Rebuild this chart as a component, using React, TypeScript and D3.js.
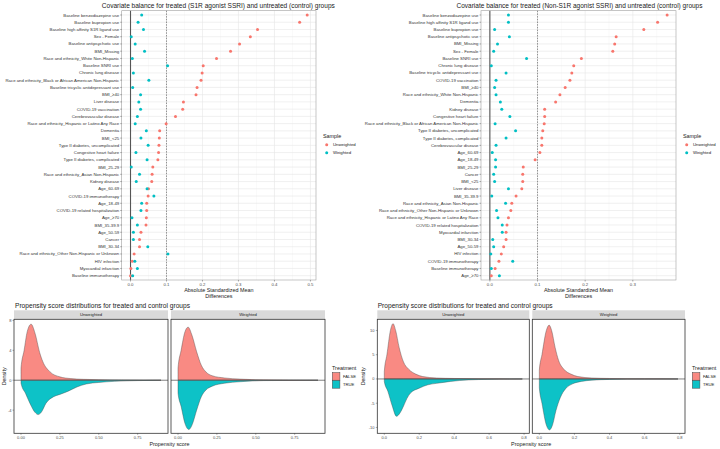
import React from "react";
import * as d3 from "d3";

// ---------- Data: top-left (S1R agonist SSRI) ----------
const s1rLabels = [
  "Baseline benzodiazepine use", "Baseline bupropion use", "Baseline high affinity S1R ligand use", "Sex - Female",
  "Baseline antipsychotic use", "BMI_Missing", "Race and ethnicity_White Non-Hispanic", "Baseline SNRI use",
  "Chronic lung disease", "Race and ethnicity_Black or African American Non-Hispanic", "Baseline tricyclic antidepressant use",
  "BMI_≥40", "Liver disease", "COVID-19 vaccination", "Cerebrovascular disease", "Race and ethnicity_Hispanic or Latino Any Race",
  "Dementia", "BMI_<25", "Type II diabetes, uncomplicated", "Congestive heart failure", "Type II diabetes, complicated",
  "BMI_25-29", "Race and ethnicity_Asian Non-Hispanic", "Kidney disease", "Age_60-69", "COVID-19 immunotherapy",
  "Age_18-49", "COVID-19 related hospitalization", "Age_≥70", "BMI_35-39.9", "Age_50-59", "Cancer", "BMI_30-34",
  "Race and ethnicity_Other Non-Hispanic or Unknown", "HIV infection", "Myocardial infarction", "Baseline immunotherapy",
];
const s1rUnweighted = [0.491, 0.47, 0.353, 0.333, 0.303, 0.278, 0.239, 0.202, 0.199, 0.196, 0.185, 0.182, 0.147, 0.145, 0.125, 0.099,
  0.081, 0.08, 0.079, 0.078, 0.076, 0.062, 0.06, 0.059, 0.05, 0.049, 0.045, 0.045, 0.044, 0.043, 0.029, 0.025, 0.025, 0.01, 0.005, 0.001, 0.0];
const s1rWeighted = [0.031, 0.021, 0.036, 0.002, 0.013, 0.039, 0.005, 0.103, 0.008, 0.051, 0.006, 0.028, 0.023, 0.028, 0.019, 0.013,
  0.044, 0.029, 0.049, 0.015, 0.046, 0.002, 0.025, 0.016, 0.046, 0.065, 0.031, 0.029, 0.004, 0.019, 0.008, 0.008, 0.048, 0.104, 0.012, 0.019, 0.006];
const s1rTicks = [0, 0.1, 0.2, 0.3, 0.4, 0.5];

// ---------- Data: top-right (Non-S1R agonist SSRI) ----------
const nonLabels = [
  "Baseline benzodiazepine use", "Baseline high affinity S1R ligand use", "Baseline bupropion use", "Baseline antipsychotic use",
  "BMI_Missing", "Sex - Female", "Baseline SNRI use", "Chronic lung disease", "Baseline tricyclic antidepressant use",
  "COVID-19 vaccination", "BMI_≥40", "Race and ethnicity_White Non-Hispanic", "Dementia", "Kidney disease", "Congestive heart failure",
  "Race and ethnicity_Black or African American Non-Hispanic", "Type II diabetes, uncomplicated", "Type II diabetes, complicated",
  "Cerebrovascular disease", "Age_60-69", "Age_18-49", "BMI_25-29", "Cancer", "BMI_<25", "Liver disease", "BMI_35-39.9",
  "Race and ethnicity_Asian Non-Hispanic", "Race and ethnicity_Other Non-Hispanic or Unknown", "Race and ethnicity_Hispanic or Latino Any Race",
  "COVID-19 related hospitalization", "Myocardial infarction", "BMI_30-34", "Age_50-59", "HIV infection", "COVID-19 immunotherapy",
  "Baseline immunotherapy", "Age_≥70",
];
const nonUnweighted = [0.372, 0.352, 0.323, 0.265, 0.262, 0.258, 0.192, 0.176, 0.172, 0.168, 0.158, 0.147, 0.138, 0.115, 0.115, 0.114,
  0.111, 0.109, 0.109, 0.105, 0.095, 0.07, 0.069, 0.069, 0.067, 0.055, 0.046, 0.044, 0.039, 0.036, 0.034, 0.034, 0.029, 0.024, 0.019, 0.011, 0.003];
const nonWeighted = [0.039, 0.039, 0.01, 0.041, 0.016, 0.008, 0.077, 0.003, 0.034, 0.013, 0.01, 0.013, 0.022, 0.025, 0.042, 0.011,
  0.054, 0.034, 0.013, 0.005, 0.012, 0.012, 0.008, 0.01, 0.039, 0.004, 0.033, 0.014, 0.017, 0.026, 0.026, 0.006, 0.008, 0.002, 0.048, 0.003, 0.02];
const nonTicks = [0, 0.1, 0.2, 0.3];

// ---------- Density data (propensity score, density) ----------
const s1rUnwFalse: [number, number][] = [[0, 0], [0, 1.6], [0.02, 4], [0.04, 6.5], [0.065, 7.5], [0.09, 6.3], [0.12, 3.7], [0.14, 2.5],
  [0.185, 1.15], [0.25, 0.45], [0.32, 0.22], [0.4, 0.12], [0.5, 0.07], [0.65, 0.03], [0.9, 0]];
const s1rUnwTrue: [number, number][] = [[0, 0], [0, -0.4], [0.03, -1.8], [0.06, -3.2], [0.09, -4.3], [0.11, -4.6], [0.13, -4.3],
  [0.16, -3.1], [0.21, -2.2], [0.25, -1.9], [0.3, -1.5], [0.36, -0.9], [0.42, -0.5], [0.5, -0.3], [0.6, -0.15], [0.75, -0.05], [0.9, 0]];
const s1rWFalse: [number, number][] = [[0, 0], [0, 1.6], [0.02, 4], [0.045, 6.5], [0.065, 7.1], [0.09, 6], [0.12, 3.8], [0.15, 2],
  [0.18, 1.1], [0.22, 0.6], [0.3, 0.3], [0.4, 0.15], [0.55, 0.05], [0.9, 0]];
const s1rWTrue: [number, number][] = [[0, 0], [0, -1.7], [0.02, -3.5], [0.045, -5.8], [0.07, -6.6], [0.09, -6], [0.12, -4],
  [0.15, -2.2], [0.18, -1.3], [0.22, -0.8], [0.3, -0.4], [0.4, -0.2], [0.55, -0.05], [0.9, 0]];
const s1rDensTicksY = [8, 4, 0, -4];
const s1rDensTicksX = [0, 0.25, 0.5, 0.75];

const nonUnwFalse: [number, number][] = [[0, 0], [0, 1.5], [0.015, 5], [0.035, 10], [0.05, 11.4], [0.065, 10], [0.085, 6.5],
  [0.11, 3.5], [0.14, 2], [0.18, 1], [0.22, 0.5], [0.3, 0.2], [0.4, 0.1], [0.6, 0.03], [0.79, 0]];
const nonUnwTrue: [number, number][] = [[0, 0], [0, -0.5], [0.02, -2.5], [0.045, -5.5], [0.07, -7.7], [0.09, -7], [0.11, -5.6],
  [0.13, -4], [0.15, -2.9], [0.2, -1.9], [0.25, -1.2], [0.3, -0.9], [0.38, -0.5], [0.48, -0.2], [0.6, -0.08], [0.79, 0]];
const nonWFalse: [number, number][] = [[0, 0], [0, 1.8], [0.015, 5], [0.04, 10], [0.056, 11.1], [0.07, 10], [0.09, 6.5],
  [0.11, 3.8], [0.14, 2], [0.18, 1], [0.22, 0.5], [0.3, 0.2], [0.4, 0.1], [0.6, 0.02], [0.79, 0]];
const nonWTrue: [number, number][] = [[0, 0], [0, -1.8], [0.015, -5], [0.04, -9.5], [0.058, -10.5], [0.075, -9.5], [0.095, -6.5],
  [0.12, -3.8], [0.15, -2], [0.19, -1], [0.24, -0.5], [0.3, -0.25], [0.4, -0.1], [0.6, -0.02], [0.79, 0]];
const nonDensTicksY = [10, 5, 0, -5, -10];
const nonDensTicksX = [0, 0.2, 0.4, 0.6, 0.8];

const facetNames = ["Unweighted", "Weighted"];
const sampleNames = ["Unweighted", "Weighted"];
const treatmentNames = ["FALSE", "TRUE"];

const RED = "#F8766D";
const CYAN = "#00BFC4";
const FONT = "Liberation Sans, Arial, sans-serif";

type BalanceProps = {
  title: string; labels: string[]; unw: number[]; w: number[]; xDomain: [number, number]; ticks: number[];
  x0: number; x1: number; legendX: number; titleX: number; titleW: number;
};

function BalancePlot({ title, labels, unw, w, xDomain, ticks, x0, x1, legendX, titleX, titleW }: BalanceProps) {
  const y0 = 10.7, y1 = 280;
  const x = d3.scaleLinear().domain(xDomain).range([x0, x1]);
  const y = d3.scalePoint<string>().domain(labels).range([15, 275.7]);
  const minor = ticks.slice(0, -1).map((t) => t + 0.05).concat([ticks[ticks.length - 1] + 0.05]).filter((t) => t < xDomain[1]);
  const fmt = d3.format(".1f");
  const cx = (x0 + x1) / 2;
  return (
    <g>
      <text x={titleX} y={7.7} textAnchor="middle" fontSize={6.9} fill="#1a1a1a" textLength={titleW} lengthAdjust="spacingAndGlyphs">{title}</text>
      <rect x={x0} y={y0} width={x1 - x0} height={y1 - y0} fill="white" />
      {minor.map((t) => (
        <line key={"mi" + t} x1={x(t)} x2={x(t)} y1={y0} y2={y1} stroke="#F2F2F2" strokeWidth={0.4} />
      ))}
      {ticks.map((t) => (
        <line key={"ma" + t} x1={x(t)} x2={x(t)} y1={y0} y2={y1} stroke="#E6E6E6" strokeWidth={0.6} />
      ))}
      {labels.map((l) => (
        <line key={"h" + l} x1={x0} x2={x1} y1={y(l)} y2={y(l)} stroke="#E6E6E6" strokeWidth={0.6} />
      ))}
      <line x1={x(0)} x2={x(0)} y1={y0} y2={y1} stroke="#555" strokeWidth={1.1} />
      <line x1={x(0.1)} x2={x(0.1)} y1={y0} y2={y1} stroke="#333" strokeWidth={0.5} strokeDasharray="1.5,1.2" />
      {labels.map((l, i) => (
        <circle key={"u" + l} cx={x(unw[i])} cy={y(l)} r={1.5} fill={RED} />
      ))}
      {labels.map((l, i) => (
        <circle key={"w" + l} cx={x(w[i])} cy={y(l)} r={1.5} fill={CYAN} />
      ))}
      <rect x={x0} y={y0} width={x1 - x0} height={y1 - y0} fill="none" stroke="#A0A0A0" strokeWidth={0.6} />
      {labels.map((l) => (
        <g key={"l" + l}>
          <line x1={x0 - 1.5} x2={x0} y1={y(l)} y2={y(l)} stroke="#333" strokeWidth={0.4} />
          <text x={x0 - 2.5} y={(y(l) as number) + 1.5} textAnchor="end" fontSize={4.3} fill="#333">{l}</text>
        </g>
      ))}
      {ticks.map((t) => (
        <g key={"t" + t}>
          <line x1={x(t)} x2={x(t)} y1={y1} y2={y1 + 1.5} stroke="#333" strokeWidth={0.4} />
          <text x={x(t)} y={y1 + 5.8} textAnchor="middle" fontSize={4.3} fill="#4D4D4D">{fmt(t)}</text>
        </g>
      ))}
      <text x={cx} y={291.5} textAnchor="middle" fontSize={5.4} fill="#1a1a1a">Absolute Standardized Mean</text>
      <text x={cx} y={297.5} textAnchor="middle" fontSize={5.4} fill="#1a1a1a">Differences</text>
      <text x={legendX} y={138} fontSize={5.4} fill="#1a1a1a">Sample</text>
      {sampleNames.map((s, i) => (
        <g key={s}>
          <circle cx={legendX + 3.7} cy={144.7 + i * 8} r={1.5} fill={i === 0 ? RED : CYAN} />
          <text x={legendX + 10} y={146.2 + i * 8} fontSize={4.3} fill="#1a1a1a">{s}</text>
        </g>
      ))}
    </g>
  );
}

type DensProps = {
  panels: [number, number][]; xDomain: [number, number]; yDomain: [number, number]; xTicks: number[]; yTicks: number[];
  curves: [number, number][][][]; // per facet: [false, true]
  titleX: number; yTickX: number; legendX: number; xFmt: (v: number) => string; densityX: number;
};

function DensityPlot({ panels, xDomain, yDomain, xTicks, yTicks, curves, titleX, yTickX, legendX, xFmt, densityX }: DensProps) {
  const pTop = 319.3, pBot = 433.3, sTop = 310.3;
  const y = d3.scaleLinear().domain(yDomain).range([pBot, pTop]);
  return (
    <g>
      <text x={titleX} y={307.8} fontSize={6.6} fill="#1a1a1a" textLength={175} lengthAdjust="spacingAndGlyphs">Propensity score distributions for treated and control groups</text>
      {panels.map(([a, b], fi) => {
        const x = d3.scaleLinear().domain(xDomain).range([a, b]);
        const area = d3.area<[number, number]>().x((d) => x(d[0])).y0(y(0)).y1((d) => y(d[1])).curve(d3.curveMonotoneX);
        return (
          <g key={fi}>
            <rect x={a} y={sTop} width={b - a} height={pTop - sTop} fill="#D9D9D9" />
            <text x={(a + b) / 2} y={sTop + 6.1} textAnchor="middle" fontSize={4.2} fill="#1a1a1a">{facetNames[fi]}</text>
            {curves[fi].map((c, ci) => (
              <path key={ci} d={area(c) || ""} fill={ci === 0 ? RED : CYAN} fillOpacity={ci === 0 ? 0.85 : 0.95} stroke="#444" strokeWidth={0.4} />
            ))}
            <line x1={a} x2={b} y1={y(0)} y2={y(0)} stroke="#555" strokeWidth={1} strokeOpacity={0.75} />
            <rect x={a} y={pTop} width={b - a} height={pBot - pTop} fill="none" stroke="#333" strokeWidth={0.8} />
            {xTicks.map((t) => (
              <g key={t}>
                <line x1={x(t)} x2={x(t)} y1={pBot} y2={pBot + 1.5} stroke="#333" strokeWidth={0.4} />
                <text x={x(t)} y={pBot + 6} textAnchor="middle" fontSize={4} fill="#4D4D4D">{xFmt(t)}</text>
              </g>
            ))}
            {fi === 0 && yTicks.map((t) => (
              <g key={t}>
                <line x1={a - 1.5} x2={a} y1={y(t)} y2={y(t)} stroke="#333" strokeWidth={0.4} />
                <text x={yTickX} y={y(t) + 1.4} textAnchor="end" fontSize={4} fill="#4D4D4D">{t}</text>
              </g>
            ))}
          </g>
        );
      })}
      <text x={(panels[0][0] + panels[1][1]) / 2} y={446} textAnchor="middle" fontSize={5.4} fill="#1a1a1a">Propensity score</text>
      <text transform={`translate(${densityX},${(pTop + pBot) / 2}) rotate(-90)`} textAnchor="middle" fontSize={5.4} fill="#1a1a1a">Density</text>
      <text x={legendX} y={370} fontSize={5.4} fill="#1a1a1a">Treatment</text>
      {treatmentNames.map((t, i) => (
        <g key={t}>
          <rect x={legendX + 0.3} y={372.6 + i * 8} width={7.6} height={7.6} fill={i === 0 ? RED : CYAN} fillOpacity={i === 0 ? 0.85 : 0.95} stroke="#444" strokeWidth={0.5} />
          <text x={legendX + 11} y={378 + i * 8} fontSize={4.2} fill="#1a1a1a">{t}</text>
        </g>
      ))}
    </g>
  );
}

export default function App() {
  return (
    <svg width={720} height={449} style={{ position: "absolute", left: 0, top: 0, background: "white", fontFamily: FONT }}>
      <rect width={720} height={449} fill="white" />
      <BalancePlot title="Covariate balance for treated (S1R agonist SSRI) and untreated (control) groups"
        labels={s1rLabels} unw={s1rUnweighted} w={s1rWeighted} xDomain={[-0.0245, 0.5155]} ticks={s1rTicks}
        x0={121.7} x1={316} legendX={323} titleX={218.3} titleW={233} />
      <BalancePlot title="Covariate balance for treated (Non-S1R agonist SSRI) and untreated (control) groups"
        labels={nonLabels} unw={nonUnweighted} w={nonWeighted} xDomain={[-0.0186, 0.3906]} ticks={nonTicks}
        x0={481} x1={676} legendX={683} titleX={579.5} titleW={246} />
      <DensityPlot panels={[[14, 168], [171, 325]]} xDomain={[-0.045, 0.945]} yDomain={[-7.1, 8.15]}
        xTicks={s1rDensTicksX} yTicks={s1rDensTicksY} curves={[[s1rUnwFalse, s1rUnwTrue], [s1rWFalse, s1rWTrue]]}
        titleX={15} yTickX={11.5} legendX={332} xFmt={d3.format(".2f")} densityX={5.5} />
      <DensityPlot panels={[[377.3, 529.3], [532.3, 685]]} xDomain={[-0.04, 0.83]} yDomain={[-11.2, 12.3]}
        xTicks={nonDensTicksX} yTicks={nonDensTicksY} curves={[[nonUnwFalse, nonUnwTrue], [nonWFalse, nonWTrue]]}
        titleX={377.7} yTickX={374.5} legendX={692} xFmt={d3.format(".1f")} densityX={365} />
    </svg>
  );
}
